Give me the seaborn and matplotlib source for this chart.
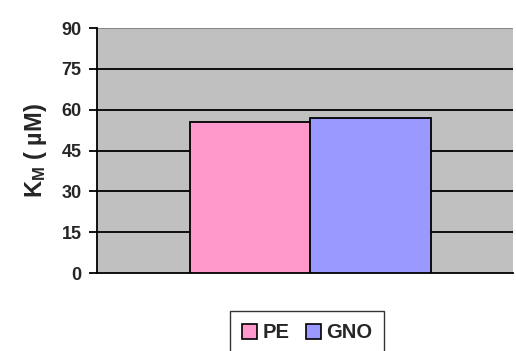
import matplotlib
matplotlib.use("Agg")
import matplotlib.pyplot as plt
import seaborn as sns
import pandas as pd

# Michaelis constants for the two samples
samples = ["PE", "GNO"]
km_values = [55.5, 57.0]
colors = ["#FF99CC", "#9999FF"]
yticks = [0, 15, 30, 45, 60, 75, 90]

df = pd.DataFrame({"group": ["" for _ in samples], "sample": samples, "km": km_values})

sns.set_style("white")
plt.rcParams["font.family"] = ["Liberation Sans", "DejaVu Sans"]
plt.rcParams["mathtext.fontset"] = "custom"
plt.rcParams["mathtext.rm"] = "Liberation Sans:bold"
plt.rcParams["mathtext.it"] = "Liberation Sans:bold"
plt.rcParams["mathtext.bf"] = "Liberation Sans:bold"

fig = plt.figure(figsize=(5.16, 3.51), dpi=100)
ax = fig.add_axes([0.188, 0.222, 0.806, 0.698])
ax.set_facecolor("#C0C0C0")

sns.barplot(data=df, x="group", y="km", hue="sample", palette=colors,
            hue_order=samples, width=0.58, saturation=1, edgecolor="black",
            linewidth=1.3, legend=False, ax=ax, zorder=3)

ax.set_xlim(-0.513, 0.487)
ax.set_ylim(0, 90)
ax.set_yticks(yticks)
ax.set_yticklabels([str(v) for v in yticks], fontsize=13, fontweight="bold")
ax.set_xticks([])
ax.set_xlabel("")
ax.set_ylabel(r"$\mathrm{K_M}$ ( µM)", fontsize=17, fontweight="bold", labelpad=9)

for y in yticks[1:-1]:
    ax.axhline(y, color="black", lw=1.3, zorder=1)
ax.axhline(90, color="#808080", lw=1.3, zorder=1)

for side in ["top", "right"]:
    ax.spines[side].set_visible(False)
ax.spines["left"].set_color("black")
ax.spines["left"].set_linewidth(1.3)
ax.spines["bottom"].set_color("black")
ax.spines["bottom"].set_linewidth(1.3)
ax.tick_params(axis="y", direction="out", length=6, width=1.3, color="black", pad=5, left=True)

handles = [plt.Rectangle((0, 0), 1, 1, facecolor=c, edgecolor="black", lw=1.2) for c in colors]
leg = fig.legend(handles, samples, loc="upper center", bbox_to_anchor=(0.595, 0.113), ncol=2,
                 frameon=True, fancybox=False, edgecolor="black", handlelength=0.75,
                 handleheight=0.75, handletextpad=0.25, columnspacing=0.8,
                 borderpad=0.6, borderaxespad=0,
                 prop={"weight": "bold", "size": 14.5})
leg.get_frame().set_linewidth(1.0)

fig.savefig("out.png", dpi=100, facecolor="white")
